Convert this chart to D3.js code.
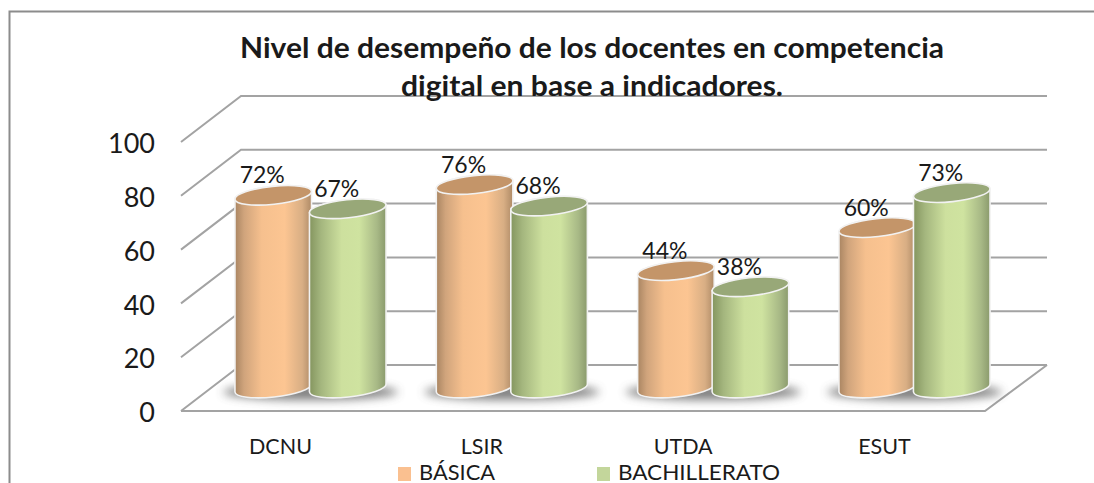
<!DOCTYPE html>
<html><head><meta charset="utf-8">
<script src="https://cdnjs.cloudflare.com/ajax/libs/d3/7.8.5/d3.min.js"></script>
<style>html,body{margin:0;padding:0;background:#fff}svg{display:block}text{font-family:Lato,"Open Sans",sans-serif;fill:#1a1a1a}</style>
</head><body><svg id="c" width="1094" height="483"></svg>
<script>
const categories = ["DCNU","LSIR","UTDA","ESUT"];
const seriesNames = ["BÁSICA","BACHILLERATO"];
const basica = [72,76,44,60];
const bachillerato = [67,68,38,73];
const titleLines = ["Nivel de desempeño de los docentes en competencia","digital en base a indicadores."];
const yTicks = [0,20,40,60,80,100];

const W=1094,H=483;
const svg=d3.select("#c");
const depth={dx:60,dy:-46};
const y=d3.scaleLinear().domain([0,100]).range([411,142]);
const x0=d3.scaleBand().domain(categories).range([235,990]).paddingInner(0.25);
const x1=d3.scaleBand().domain(seriesNames).range([1,x0.bandwidth()-1]);
const barBase=-22; // bars stand part-way into the floor depth
const barY=v=>y(v)+barBase;

const defs=svg.append("defs");
function grad(id,stops){
  const g=defs.append("linearGradient").attr("id",id).attr("x1",0).attr("x2",1).attr("y1",0).attr("y2",0);
  stops.forEach(s=>g.append("stop").attr("offset",s[0]).attr("stop-color",s[1]));
}
grad("g0",[[0,"#a98562"],[.12,"#d0a47c"],[.35,"#f6c08e"],[.65,"#fcc592"],[.88,"#d8ae84"],[1,"#ae8a66"]]);
grad("g1",[[0,"#84955f"],[.15,"#a4b67e"],[.42,"#cde09e"],[.65,"#cfe3a0"],[.88,"#a8b986"],[1,"#8a9a6c"]]);
const topCol=["#c49569","#98a878"];
const fillId=["g0","g1"];
defs.append("filter").attr("id","bl").attr("x","-30%").attr("y","-100%").attr("width","160%").attr("height","300%")
  .append("feGaussianBlur").attr("stdDeviation",5);

// frame
svg.append("path").attr("d","M9.5,483V11.5H1094").attr("fill","none").attr("stroke","#8c8c8c").attr("stroke-width",2);

const grid=svg.append("g").attr("fill","none").attr("stroke","#a3a3a3").attr("stroke-width",2);
yTicks.forEach(t=>{
  const yf=y(t), yb=yf+depth.dy, xf=x0.range()[0]-54, xb=xf+depth.dx;
  grid.append("path").attr("d",`M${xf},${yf}L${xb},${yb}L1047,${yb}`);
});
grid.append("path").attr("d",`M181,${y(0)}L985,${y(0)}L1047,${y(0)+depth.dy}`);

// axis labels
const axis=d3.axisLeft(y).tickValues(yTicks).tickSize(0).tickPadding(0);
const ga=svg.append("g").attr("transform","translate(155,2)").call(axis);
ga.select(".domain").remove();
ga.selectAll("text").attr("font-size",27).style("font-family","Lato,sans-serif").attr("fill","#1a1a1a");

const rows=[basica,bachillerato];
const rx=38.5, ry=9, tilt=-6, rad=tilt*Math.PI/180;
const ex=rx*Math.cos(rad), ey=rx*Math.sin(rad);

// shadows
categories.forEach((c,i)=>{
  const cx=x0(c)+x0.bandwidth()/2, cy=barY(0)+3;
  svg.append("ellipse").attr("cx",cx).attr("cy",cy).attr("rx",x0.bandwidth()/2+12).attr("ry",8)
    .attr("fill","#555").attr("opacity",.75).attr("filter","url(#bl)");
});

// cylinders
categories.forEach((c,i)=>{
  seriesNames.forEach((s,j)=>{
    const v=rows[j][i];
    const cx=x0(c)+x1(s)+x1.bandwidth()/2;
    const t=barY(v), b=barY(0)-1;
    const g=svg.append("g");
    g.append("path")
      .attr("d",`M${cx-ex},${t-ey}L${cx-ex},${b-ey}A${rx},${ry} ${tilt} 0 0 ${cx+ex},${b+ey}L${cx+ex},${t+ey}A${rx},${ry} ${tilt} 0 0 ${cx-ex},${t-ey}Z`)
      .attr("fill",`url(#${fillId[j]})`).attr("stroke","#f2f2f2").attr("stroke-width",1.6);
    g.append("ellipse").attr("cx",cx).attr("cy",t).attr("rx",rx).attr("ry",ry)
      .attr("transform",`rotate(${tilt} ${cx} ${t})`)
      .attr("fill",topCol[j]).attr("stroke","#f2f2f2").attr("stroke-width",1.6);
  });
});
// data labels
categories.forEach((c,i)=>{
  seriesNames.forEach((s,j)=>{
    const v=rows[j][i];
    const cx=x0(c)+x1(s)+x1.bandwidth()/2;
    svg.append("text").attr("x",cx-11).attr("y",barY(v)-12).attr("text-anchor","middle")
      .attr("font-size",23).text(v+"%");
  });
});
// category labels
categories.forEach(c=>{
  svg.append("text").attr("x",x0(c)+x0.bandwidth()/2-30).attr("y",454).attr("text-anchor","middle")
    .attr("font-size",21.5).text(c);
});
// title
const titleLen=[704,382];
titleLines.forEach((l,i)=>{
  svg.append("text").attr("x",592).attr("y",[58,96][i]).attr("text-anchor","middle")
    .attr("font-size",28).attr("font-weight",700).attr("fill","#111")
    .attr("textLength",titleLen[i]).attr("lengthAdjust","spacingAndGlyphs").text(l);
});
// legend
const legX=[398,597], legC=["#fac090","#c3d69b"];
const legLen=[76,162];
seriesNames.forEach((s,j)=>{
  svg.append("rect").attr("x",legX[j]).attr("y",467).attr("width",13).attr("height",14).attr("fill",legC[j]);
  svg.append("text").attr("x",legX[j]+21).attr("y",479.5).attr("font-size",21.5)
    .attr("textLength",legLen[j]).attr("lengthAdjust","spacingAndGlyphs").text(s);
});
</script></body></html>
